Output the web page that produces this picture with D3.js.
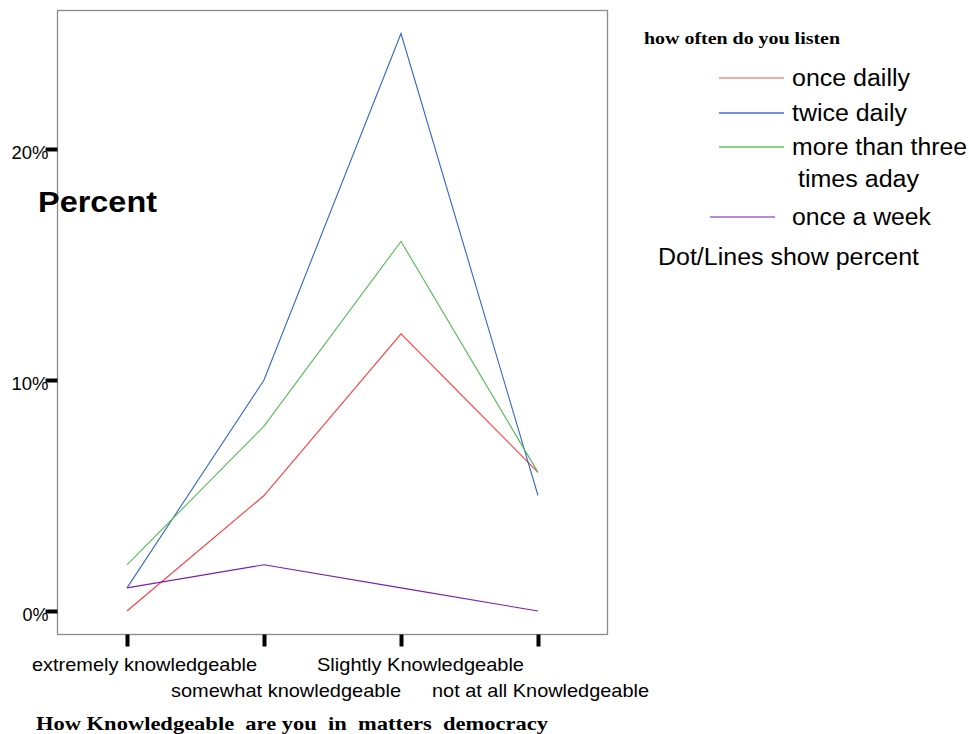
<!DOCTYPE html>
<html><head><meta charset="utf-8">
<script src="https://cdn.jsdelivr.net/npm/d3@7/dist/d3.min.js"></script>
<style>body{margin:0;background:#fff}svg{display:block}</style>
</head><body>
<script>
const categories = ["extremely knowledgeable","somewhat knowledgeable","Slightly Knowledgeable","not at all Knowledgeable"];
const seriesNames = ["once dailly","twice daily","more than three times aday","once a week"];
const onceDaily = [0, 5, 12, 6];
const twiceDaily = [1, 10, 25, 5];
const moreThanThree = [2, 8, 16, 6];
const onceWeek = [1, 2, 1, 0];
const yTicks = [0, 10, 20];
const yTickLabels = ["0%","10%","20%"];

const colors = ["#ff3b3b","#3366cc","#55bb55","#7a1fa8"];
const legendColors = ["#f98a8a","#3d6fd6","#66c266","#a060d0"];
const allSeries = [onceDaily, twiceDaily, moreThanThree, onceWeek];

const W = 969, H = 734;
const svg = d3.select("body").append("svg").attr("width", W).attr("height", H);
const SANS = "Liberation Sans, Arial, sans-serif";
const SERIF = "Liberation Serif, Times New Roman, serif";

function fit(sel, len) {
  sel.attr("textLength", len).attr("lengthAdjust", "spacingAndGlyphs");
  return sel;
}

const frame = {left: 57.5, right: 607.5, top: 10.5, bottom: 634.5};
const x = d3.scalePoint().domain(categories).range([127, 538]);
const y = d3.scaleLinear().domain([0, 20]).range([611, 149]);

// frame
svg.append("rect").attr("x", frame.left).attr("y", frame.top)
  .attr("width", frame.right - frame.left).attr("height", frame.bottom - frame.top)
  .attr("fill", "none").attr("stroke", "#8c8c8c").attr("stroke-width", 1.3);

// y axis ticks
const yAxis = d3.axisLeft(y).tickValues(yTicks).tickSize(12).tickPadding(-2)
  .tickFormat((d, i) => yTickLabels[i]);
const gy = svg.append("g").attr("transform", `translate(${frame.left},0)`).call(yAxis);
gy.select(".domain").remove();
gy.selectAll(".tick line").attr("stroke", "#000").attr("stroke-width", 4);
gy.selectAll(".tick text").attr("font-family", SANS)
  .attr("font-size", 18).attr("fill", "#000").attr("dy", "0.55em").attr("x", -9)
  .each(function(d, i) { d3.select(this).attr("textLength", [26, 37, 37][i]).attr("lengthAdjust", "spacingAndGlyphs"); });

// x axis ticks
const xAxis = d3.axisBottom(x).tickSize(12).tickFormat("");
const gx = svg.append("g").attr("transform", `translate(0,${frame.bottom})`).call(xAxis);
gx.select(".domain").remove();
gx.selectAll(".tick line").attr("stroke", "#000").attr("stroke-width", 4);

// x category labels (staggered)
const labelOffsets = [17.5, 22, 19.5, 2.5];
const labelWidths = [225, 230, 207, 217];
svg.append("g").selectAll("text").data(categories).join("text")
  .attr("x", (d, i) => x(d) + labelOffsets[i])
  .attr("y", (d, i) => i % 2 === 0 ? 671 : 697)
  .attr("text-anchor", "middle")
  .attr("font-family", SANS).attr("font-size", 18.5)
  .attr("textLength", (d, i) => labelWidths[i]).attr("lengthAdjust", "spacingAndGlyphs")
  .text(d => d);

// x title
fit(svg.append("text").attr("x", 36).attr("y", 730).attr("xml:space", "preserve")
  .style("white-space", "pre")
  .attr("font-family", SERIF).attr("font-weight", "bold")
  .attr("font-size", 19.5).text("How Knowledgeable  are you  in  matters  democracy"), 512);

// y title
fit(svg.append("text").attr("x", 38).attr("y", 212)
  .attr("font-family", SANS).attr("font-weight", "bold")
  .attr("font-size", 30).text("Percent"), 119);

// lines
const line = d3.line().x((d, i) => x(categories[i])).y(d => y(d));
svg.append("g").selectAll("path").data(allSeries).join("path")
  .attr("d", d => line(d)).attr("fill", "none")
  .attr("stroke", (d, i) => colors[i]).attr("stroke-width", 1.1);

// legend
fit(svg.append("text").attr("x", 644).attr("y", 44)
  .attr("font-family", SERIF).attr("font-weight", "bold")
  .attr("font-size", 16.5).text("how often do you listen"), 196);

const legendRows = [
  {y: 78, x1: 719, x2: 784, lines: [{t: "once dailly", x: 792, w: 118}]},
  {y: 113, x1: 719, x2: 784, lines: [{t: "twice daily", x: 792, w: 115}]},
  {y: 147, x1: 719, x2: 784, lines: [{t: "more than three", x: 792, w: 175}, {t: "times aday", x: 798, w: 121}]},
  {y: 217, x1: 710, x2: 775, lines: [{t: "once a week", x: 792, w: 139}]}
];
legendRows.forEach((r, i) => {
  svg.append("line").attr("x1", r.x1).attr("x2", r.x2).attr("y1", r.y).attr("y2", r.y)
    .attr("stroke", legendColors[i]).attr("stroke-width", 1.3);
  r.lines.forEach((l, j) => {
    fit(svg.append("text").attr("x", l.x).attr("y", r.y + 8 + j * 32)
      .attr("font-family", SANS).attr("font-size", 23).text(l.t), l.w);
  });
});
fit(svg.append("text").attr("x", 658).attr("y", 265)
  .attr("font-family", SANS).attr("font-size", 23)
  .text("Dot/Lines show percent"), 261);
</script>
</body></html>
